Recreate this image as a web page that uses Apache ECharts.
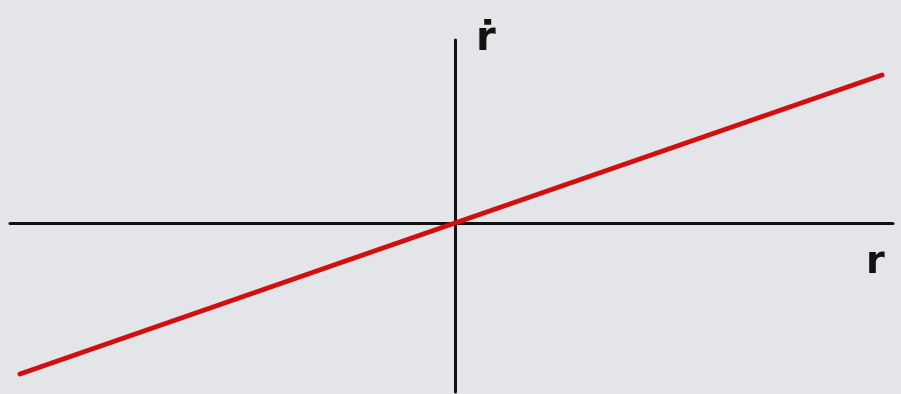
<!DOCTYPE html>
<html>
<head>
<meta charset="utf-8">
<script src="https://cdn.jsdelivr.net/npm/echarts@6/dist/echarts.min.js"></script>
<style>
  html, body { margin: 0; padding: 0; background: #e3e5e9; }
  #main { width: 901px; height: 394px; }
</style>
</head>
<body>
<div id="main"></div>
<script>
// line through the origin (1 unit = 100 px)
var lineX = [-4.35, 0, 4.27]
var lineY = [-1.51, 0, 1.48]
var xRange = [-4.45, 4.38]
var yRange = [-1.69, 1.83]

var chart = echarts.init(document.getElementById('main'))

var axisBase = {
  type: 'value',
  axisLine: { onZero: true, lineStyle: { color: '#111', width: 3 } },
  axisTick: { show: false },
  axisLabel: { show: false },
  splitLine: { show: false }
}

var option = {
  backgroundColor: '#e3e5e9',
  animation: false,
  grid: { left: 10, right: 8, top: 40, bottom: 2 },
  xAxis: Object.assign({}, axisBase, { min: xRange[0], max: xRange[1] }),
  yAxis: Object.assign({}, axisBase, { min: yRange[0], max: yRange[1] }),
  graphic: [
    {
      type: 'text', left: 476, top: 20,
      style: { text: 'ṙ', font: 'bold 40px "DejaVu Sans"', fill: '#111' }
    },
    {
      type: 'text', left: 866, top: 244,
      style: { text: 'r', font: 'bold 38px "DejaVu Sans"', fill: '#111' }
    }
  ],
  series: [{
    type: 'line',
    data: lineX.map(function (x, i) { return [x, lineY[i]] }),
    showSymbol: false,
    lineStyle: { color: '#d10f10', width: 5, cap: 'round' }
  }]
}

chart.setOption(option)
</script>
</body>
</html>
